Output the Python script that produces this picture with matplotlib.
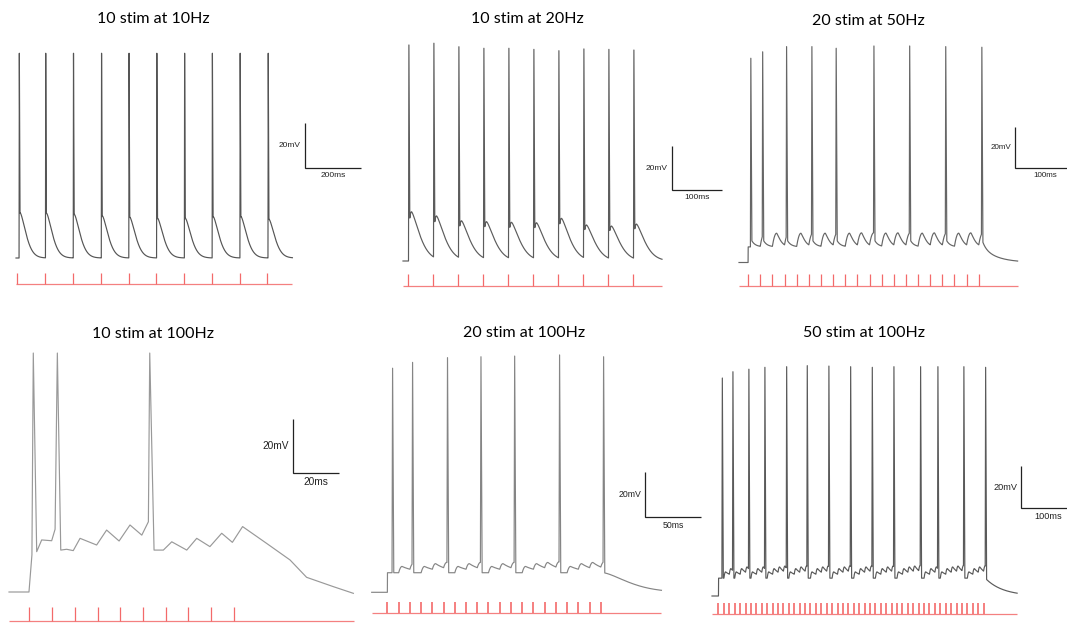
import numpy as np
import matplotlib.pyplot as plt

W, H = 1067, 624
REST = -70.0

# ---- stimulus trains
titles = ['10 stim at 10Hz', '10 stim at 20Hz', '20 stim at 50Hz',
          '10 stim at 100Hz', '20 stim at 100Hz', '50 stim at 100Hz']
n_stim = [10, 10, 20, 10, 20, 50]
freq_hz = [10, 20, 50, 100, 100, 100]
first_ms = [5, 9, 15, 9, 14, 12]
end_ms = [995, 518, 459, 152, 258, 564]
bar_ms = [200, 100, 100, 20, 50, 100]
bar_mv = 20

# ---- spikes (index of stimulus that fired, latency ms, peak mV)
p1_spike_idx = [0, 1, 2, 3, 4, 5, 6, 7, 8, 9]
p1_delay_ms = [6, 1, 1, 2, 1, 1, 1, 1, 1, 2]
p1_spike_mv = [21, 21, 21, 21, 21, 21, 21, 21, 21, 21]
p1_adp_mv = [-49.9, -50.1, -50.6, -51.3, -51.9, -52.4, -52.4, -51.6, -51.6, -52.8]

p2_spike_idx = [0, 1, 2, 3, 4, 5, 6, 7, 8, 9]
p2_delay_ms = [2, 2, 2, 2, 2, 2, 2, 2, 2, 2]
p2_spike_mv = [28.2, 29.0, 27.4, 26.7, 26.7, 26.2, 25.6, 26.4, 26.2, 25.9]
p2_adp_mv = [-47.6, -49.5, -51.7, -52.1, -52.4, -52.6, -50.6, -53.6, -54.1, -53.2]

p3_spike_idx = [0, 1, 3, 5, 7, 10, 13, 16, 19]
p3_delay_ms = [3.8, 3.3, 2.7, 4.4, 4.4, 6.6, 5.5, 4.9, 4.4]
p3_spike_mv = [28.2, 31.3, 33.8, 33.8, 33.0, 34.1, 34.1, 33.8, 33.5]
p3_adp_mv = [-58.5, -58.5, -58.5, -58.5, -58.5, -58.5, -58.5, -58.5, -58.5]

p5_spike_idx = [0, 2, 5, 8, 11, 15, 19]
p5_delay_ms = [4.1, 1.9, 3.0, 2.8, 2.8, 2.8, 2.0]
p5_spike_mv = [29.6, 32.2, 34.3, 34.7, 35.0, 35.5, 34.7]

p6_spike_idx = [0, 2, 5, 8, 12, 16, 20, 24, 28, 32, 37, 40, 45, 49]
p6_delay_ms = [6.3, 5.9, 5.4, 5.0, 5.2, 3.3, 3.3, 3.5, 3.5, 3.5, 2.8, 4.8, 2.8, 3.0]
p6_spike_mv = [33.8, 36.8, 38.0, 38.9, 39.2, 39.7, 39.5, 39.2, 38.9, 39.2, 39.2, 39.2, 39.2, 38.9]

# depolarising plateau during the train (mV above rest) and its decay after
plateau_mv = [0, 0, 7.5, 0, 8.7, 8.5]
plateau_tau = [1, 1, 25, 1, 30, 32]
plateau_p = [1, 1, 1, 1, 1.5, 1]
# unitary EPSP amplitude and shape (rise ms, decay ms, decay power)
epsp_mv = [0, 0, 6.5, 0, 2.8, 3.0]
epsp_shape = [(3, 10, 1), (3, 10, 1), (7, 8, 1.3), (3, 10, 1), (3, 12, 1), (3, 15, 1)]
# after-depolarisation shape (rise ms, decay ms, decay power, start fraction)
adp_shape = {0: (4, 29, 1.5, 0.6), 1: (6, 23, 1.4, 0.6), 2: (0.5, 6, 1, 1.0)}

# ---- 10 stim at 100Hz: subthreshold trace read point by point
p4_sub_ms = [0, 8.8, 10.1, 12.2, 14.4, 18.8, 20.3, 22.8, 25.4, 28.3, 31.3, 38.6,
             43.0, 48.5, 53.3, 58.5, 61.4, 63.9, 68.0, 71.7, 78.3, 82.7, 88.5,
             93.7, 98.4, 102.9, 113.5, 123.8, 131.1, 142.9, 151.7]
p4_sub_mv = [-70, -70, -56.1, -54.9, -50.5, -50.8, -46.5, -54.3, -54.0, -54.5,
             -49.9, -52.4, -46.8, -50.9, -44.9, -48.7, -43.7, -54.3, -54.3,
             -51.2, -54.3, -49.9, -53.0, -48.0, -51.4, -45.5, -51.8, -58.0,
             -64.5, -68.0, -70.5]
p4_spike_ms = [10.7, 21.3, 62.0]
p4_spike_mv = [19.5, 19.5, 19.5]

# ---- layout: t=0 x px, rest y px, px/ms, px/mV, stim line y px, tick px,
#      title centre px, scale bar corner px, trace colour, label size, spike up/down ms
layout = [
    (16, 258, 0.2778, 2.25, 284.3, 11, (153.7, 19), (305, 168), '#555555', 6, (1.0, 2.5)),
    (403, 261, 0.5, 2.2, 285.7, 11.7, (527.8, 19), (672, 190), '#5c5c5c', 6, (0.8, 1.8)),
    (739, 262.5, 0.607, 2.08, 285.7, 11.7, (868.5, 20.8), (1015, 168.3), '#666666', 5.8, (0.7, 1.6)),
    (9, 592, 2.27, 2.67, 620.7, 13.7, (153.3, 333.5), (293.3, 472.7), '#999999', 7.3, (0, 0)),
    (371.7, 592.3, 1.123, 2.25, 613.3, 11.6, (523.8, 333), (645, 517), '#858585', 6.3, (0.5, 1.0)),
    (712, 596, 0.541, 2.1, 614.3, 11, (863.8, 333), (1021, 508), '#5a5a5a', 6.6, (0.8, 1.6)),
]


def kern(u, rise, tau, p, k0=0.0):
    out = np.zeros_like(u)
    r = (u >= 0) & (u < rise)
    out[r] = k0 + (1 - k0) * (1 - (1 - u[r] / rise) ** 2)
    d = u >= rise
    out[d] = np.exp(-((u[d] - rise) / tau) ** p)
    return out


def membrane(t, m):
    stim, sp_idx, sp_t = m['stim'], m['spike_idx'], m['spike_t']
    v = np.full(t.shape, REST)
    on = (t >= stim[0]) & (t < sp_t[-1])
    v[on] += m['plateau']
    off = t >= sp_t[-1]
    v[off] += m['plateau'] * np.exp(-((t[off] - sp_t[-1]) / m['plateau_tau']) ** m['plateau_p'])
    last = np.searchsorted(sp_t, t, side='right') - 1
    for k, s in enumerate(sp_t):
        seg = last == k
        if m['adp'] is not None:
            v[seg] += m['adp'][k] * kern(t[seg] - s, *m['adp_shape'])
        for j in range(sp_idx[k] + 1, len(stim)):
            v[seg] += m['epsp'] * kern(t[seg] - stim[j], *m['epsp_shape'])
    return v


def trace(m):
    t = np.arange(0, m['end'] + 1e-9, 0.05)
    up, down = m['spike_w']
    sp_t = m['spike_t']
    keep = np.ones(t.shape, bool)
    for s in sp_t:
        keep &= (t < s) | (t > s + up + down)
    t = t[keep]
    t_pre = sp_t - 1e-4
    t_post = sp_t + up + down
    tt = np.concatenate([t, t_pre, sp_t + up, t_post])
    vv = np.concatenate([membrane(t, m), membrane(t_pre, m),
                         np.asarray(m['spike_mv'], float), membrane(t_post, m)])
    o = np.argsort(tt, kind='stable')
    return tt[o], vv[o]


spikes = {0: (p1_spike_idx, p1_delay_ms, p1_spike_mv),
          1: (p2_spike_idx, p2_delay_ms, p2_spike_mv),
          2: (p3_spike_idx, p3_delay_ms, p3_spike_mv),
          4: (p5_spike_idx, p5_delay_ms, p5_spike_mv),
          5: (p6_spike_idx, p6_delay_ms, p6_spike_mv)}
adps = {0: p1_adp_mv, 1: p2_adp_mv, 2: p3_adp_mv}

fig = plt.figure(figsize=(W / 100, H / 100), dpi=100)
fig.patch.set_facecolor('white')

for i in range(6):
    x0, y0, sx, sy, stim_y, tick_px, title_xy, bar_xy, colour, fs, spike_w = layout[i]
    ax = fig.add_axes([0, 0, 1, 1])
    ax.set_xlim(-x0 / sx, (W - x0) / sx)
    ax.set_ylim(REST - (H - y0) / sy, REST + y0 / sy)
    ax.axis('off')
    ax.patch.set_alpha(0)

    stim = first_ms[i] + np.arange(n_stim[i]) * 1000.0 / freq_hz[i]

    if i == 3:
        tt = np.concatenate([p4_sub_ms, p4_spike_ms])
        vv = np.concatenate([p4_sub_mv, p4_spike_mv])
        o = np.argsort(tt, kind='stable')
        t, v = tt[o], vv[o]
    else:
        idx, delay, peak = spikes[i]
        base = REST + plateau_mv[i]
        m = {'stim': stim, 'spike_idx': idx,
             'spike_t': stim[idx] + np.asarray(delay, float),
             'spike_mv': peak, 'end': end_ms[i], 'spike_w': spike_w,
             'plateau': plateau_mv[i], 'plateau_tau': plateau_tau[i],
             'plateau_p': plateau_p[i], 'epsp': epsp_mv[i],
             'epsp_shape': epsp_shape[i],
             'adp': [a - base for a in adps[i]] if i in adps else None,
             'adp_shape': adp_shape.get(i)}
        t, v = trace(m)
    ax.plot(t, v, color=colour, lw=0.85)

    # stimulus markers
    v_line = REST - (stim_y - y0) / sy
    red = '#f36a6a'
    ax.hlines(v_line, 0, end_ms[i], color=red, lw=0.9, alpha=0.85)
    ax.vlines(stim, v_line, v_line + tick_px / sy, color=red,
              lw=1.2 if n_stim[i] >= 20 and freq_hz[i] == 100 else 0.9)

    # scale bar
    bx = (bar_xy[0] - x0) / sx
    by = REST + (y0 - bar_xy[1]) / sy
    ax.plot([bx, bx, bx + bar_ms[i]], [by + bar_mv, by, by], color='#222222',
            lw=0.9, solid_joinstyle='miter', solid_capstyle='butt')
    ax.annotate('%dmV' % bar_mv, (bx, by + bar_mv / 2), xytext=(-4, 0),
                textcoords='offset pixels', ha='right', va='center',
                fontsize=fs, family='Liberation Sans', color='#222222')
    ax.annotate('%dms' % bar_ms[i], (bx + bar_ms[i] / 2, by), xytext=(0, -4),
                textcoords='offset pixels', ha='center', va='top',
                fontsize=fs, family='Liberation Sans', color='#222222')

    fig.text(title_xy[0] / W, 1 - title_xy[1] / H, titles[i], ha='center',
             va='center', fontsize=11.5, family='Lato', color='black')

fig.savefig('out.png', dpi=100, facecolor='white')
